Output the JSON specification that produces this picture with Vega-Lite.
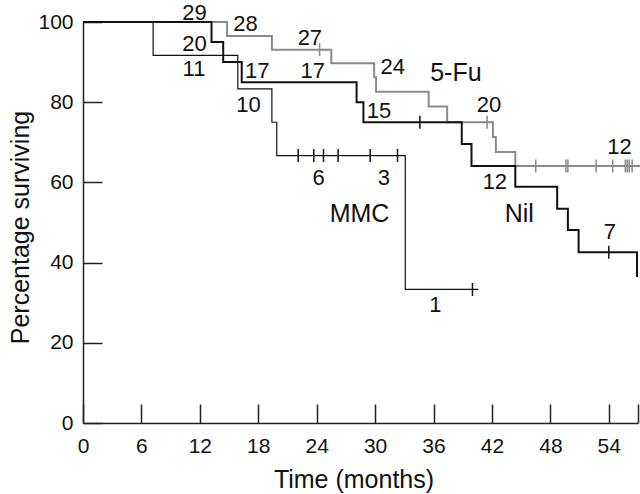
{
  "$schema": "https://vega.github.io/schema/vega-lite/v6.json",
  "width": 555,
  "height": 401,
  "autosize": {"type": "none"},
  "padding": {"left": 83, "top": 22, "right": 2, "bottom": 71},
  "background": "white",
  "config": {"view": {"stroke": null}, "font": "Liberation Sans"},
  "datasets": {
    "curves": [
      {"group": "5-Fu", "t": 0, "s": 100},
      {"group": "5-Fu", "t": 14.8, "s": 96.5},
      {"group": "5-Fu", "t": 19.4, "s": 93.1},
      {"group": "5-Fu", "t": 25.5, "s": 89.7},
      {"group": "5-Fu", "t": 29.9, "s": 86.2},
      {"group": "5-Fu", "t": 30.1, "s": 82.6},
      {"group": "5-Fu", "t": 35.5, "s": 78.9},
      {"group": "5-Fu", "t": 37.4, "s": 75.0},
      {"group": "5-Fu", "t": 42.1, "s": 71.3},
      {"group": "5-Fu", "t": 42.4, "s": 67.6},
      {"group": "5-Fu", "t": 44.4, "s": 64.1},
      {"group": "5-Fu", "t": 57.2, "s": 64.1},
      {"group": "Nil", "t": 0, "s": 100},
      {"group": "Nil", "t": 13.2, "s": 95},
      {"group": "Nil", "t": 14.4, "s": 90},
      {"group": "Nil", "t": 16.3, "s": 85},
      {"group": "Nil", "t": 28.1, "s": 80},
      {"group": "Nil", "t": 28.8, "s": 75},
      {"group": "Nil", "t": 38.9, "s": 69.6},
      {"group": "Nil", "t": 39.9, "s": 64.1},
      {"group": "Nil", "t": 44.4, "s": 58.9},
      {"group": "Nil", "t": 48.7, "s": 53.4},
      {"group": "Nil", "t": 49.8, "s": 48.1},
      {"group": "Nil", "t": 50.9, "s": 42.6},
      {"group": "Nil", "t": 56.9, "s": 36.4},
      {"group": "MMC", "t": 0, "s": 100},
      {"group": "MMC", "t": 7.2, "s": 91.7},
      {"group": "MMC", "t": 15.9, "s": 83.3},
      {"group": "MMC", "t": 19.4, "s": 75.0},
      {"group": "MMC", "t": 19.9, "s": 66.7},
      {"group": "MMC", "t": 33.1, "s": 33.3},
      {"group": "MMC", "t": 40.6, "s": 33.3}
    ],
    "censors": [
      {"group": "5-Fu", "t": 24.3, "s": 93.1},
      {"group": "5-Fu", "t": 41.5, "s": 75.0},
      {"group": "5-Fu", "t": 46.5, "s": 64.1},
      {"group": "5-Fu", "t": 49.6, "s": 64.1},
      {"group": "5-Fu", "t": 49.8, "s": 64.1},
      {"group": "5-Fu", "t": 52.7, "s": 64.1},
      {"group": "5-Fu", "t": 54.4, "s": 64.1},
      {"group": "5-Fu", "t": 55.7, "s": 64.1},
      {"group": "5-Fu", "t": 55.9, "s": 64.1},
      {"group": "5-Fu", "t": 56.1, "s": 64.1},
      {"group": "5-Fu", "t": 56.4, "s": 64.1},
      {"group": "Nil", "t": 34.6, "s": 75.0},
      {"group": "Nil", "t": 54.0, "s": 42.6},
      {"group": "MMC", "t": 22.1, "s": 66.7},
      {"group": "MMC", "t": 23.7, "s": 66.7},
      {"group": "MMC", "t": 24.7, "s": 66.7},
      {"group": "MMC", "t": 26.2, "s": 66.7},
      {"group": "MMC", "t": 29.5, "s": 66.7},
      {"group": "MMC", "t": 32.3, "s": 66.7},
      {"group": "MMC", "t": 40.0, "s": 33.3}
    ],
    "labels": [
      {"label": "29", "t": 11.45, "s": 102.2, "kind": "n"},
      {"label": "28", "t": 16.7, "s": 99.6, "kind": "n"},
      {"label": "27", "t": 23.3, "s": 96.0, "kind": "n"},
      {"label": "24", "t": 31.8, "s": 88.7, "kind": "n"},
      {"label": "5-Fu", "t": 38.3, "s": 87.2, "kind": "g"},
      {"label": "20", "t": 41.7, "s": 79.4, "kind": "n"},
      {"label": "12", "t": 55.1, "s": 68.8, "kind": "n"},
      {"label": "20", "t": 11.45, "s": 94.4, "kind": "n"},
      {"label": "17", "t": 17.9, "s": 87.7, "kind": "n"},
      {"label": "17", "t": 23.6, "s": 87.9, "kind": "n"},
      {"label": "15", "t": 30.4, "s": 77.9, "kind": "n"},
      {"label": "12", "t": 42.3, "s": 60.2, "kind": "n"},
      {"label": "Nil", "t": 44.8, "s": 52.2, "kind": "g"},
      {"label": "7", "t": 54.1, "s": 47.6, "kind": "n"},
      {"label": "11", "t": 11.4, "s": 88.2, "kind": "n"},
      {"label": "10", "t": 17.0, "s": 79.3, "kind": "n"},
      {"label": "6", "t": 24.2, "s": 61.2, "kind": "n"},
      {"label": "3", "t": 30.9, "s": 61.2, "kind": "n"},
      {"label": "MMC", "t": 28.4, "s": 52.1, "kind": "g"},
      {"label": "1", "t": 36.2, "s": 29.4, "kind": "n"}
    ]
  },
  "encoding": {
    "x": {
      "field": "t", "type": "quantitative",
      "scale": {"domain": [0, 57], "nice": false, "zero": false},
      "axis": {
        "title": "Time (months)",
        "values": [0, 6, 12, 18, 24, 30, 36, 42, 48, 54, 57],
        "labelExpr": "datum.value > 55 ? '' : datum.label",
        "labelFlush": false, "labelOverlap": false,
        "grid": false, "tickSize": -19, "tickWidth": 1.5, "tickColor": "#222",
        "domainColor": "#222", "domainWidth": 1.5,
        "labelFontSize": 21, "labelColor": "#111", "labelPadding": 31, "labelFont": "Liberation Sans",
        "titleFontSize": 25, "titleFontWeight": "normal", "titleColor": "#111", "titleFont": "Liberation Sans",
        "titleX": 270.5, "titleY": 64, "titleBaseline": "alphabetic", "titleAlign": "center"
      }
    },
    "y": {
      "field": "s", "type": "quantitative",
      "scale": {"domain": [0, 100], "nice": false, "zero": false},
      "axis": {
        "title": "Percentage surviving",
        "values": [0, 20, 40, 60, 80, 100],
        "labelFlush": false, "labelOverlap": false,
        "grid": false, "tickSize": -19, "tickWidth": 1.5, "tickColor": "#222",
        "domainColor": "#222", "domainWidth": 1.5,
        "labelFontSize": 21, "labelColor": "#111", "labelPadding": 29, "labelFont": "Liberation Sans",
        "titleFontSize": 25, "titleFontWeight": "normal", "titleColor": "#111", "titleFont": "Liberation Sans",
        "titleX": -55, "titleY": 205, "titleBaseline": "alphabetic", "titleAlign": "center", "titleAngle": -90
      }
    }
  },
  "layer": [
    {
      "data": {"name": "curves"},
      "transform": [{"filter": "datum.group === '5-Fu'"}],
      "mark": {"type": "line", "interpolate": "step-after", "color": "#8a8a8a", "strokeWidth": 2}
    },
    {
      "data": {"name": "curves"},
      "transform": [{"filter": "datum.group === 'Nil'"}],
      "mark": {"type": "line", "interpolate": "step-after", "color": "#111111", "strokeWidth": 2}
    },
    {
      "data": {"name": "curves"},
      "transform": [{"filter": "datum.group === 'MMC'"}],
      "mark": {"type": "line", "interpolate": "step-after", "color": "#111111", "strokeWidth": 1.2}
    },
    {
      "data": {"name": "censors"},
      "mark": {"type": "tick", "orient": "vertical", "size": 13, "thickness": 1.5, "opacity": 1},
      "encoding": {
        "color": {
          "field": "group", "type": "nominal",
          "scale": {"domain": ["5-Fu", "Nil", "MMC"], "range": ["#8a8a8a", "#111111", "#111111"]},
          "legend": null
        }
      }
    },
    {
      "data": {"name": "labels"},
      "mark": {"type": "text", "align": "center", "baseline": "middle", "color": "#111", "font": "Liberation Sans"},
      "encoding": {
        "text": {"field": "label", "type": "nominal"},
        "size": {
          "field": "kind", "type": "nominal",
          "scale": {"domain": ["n", "g"], "range": [22, 25]},
          "legend": null
        }
      }
    }
  ]
}
